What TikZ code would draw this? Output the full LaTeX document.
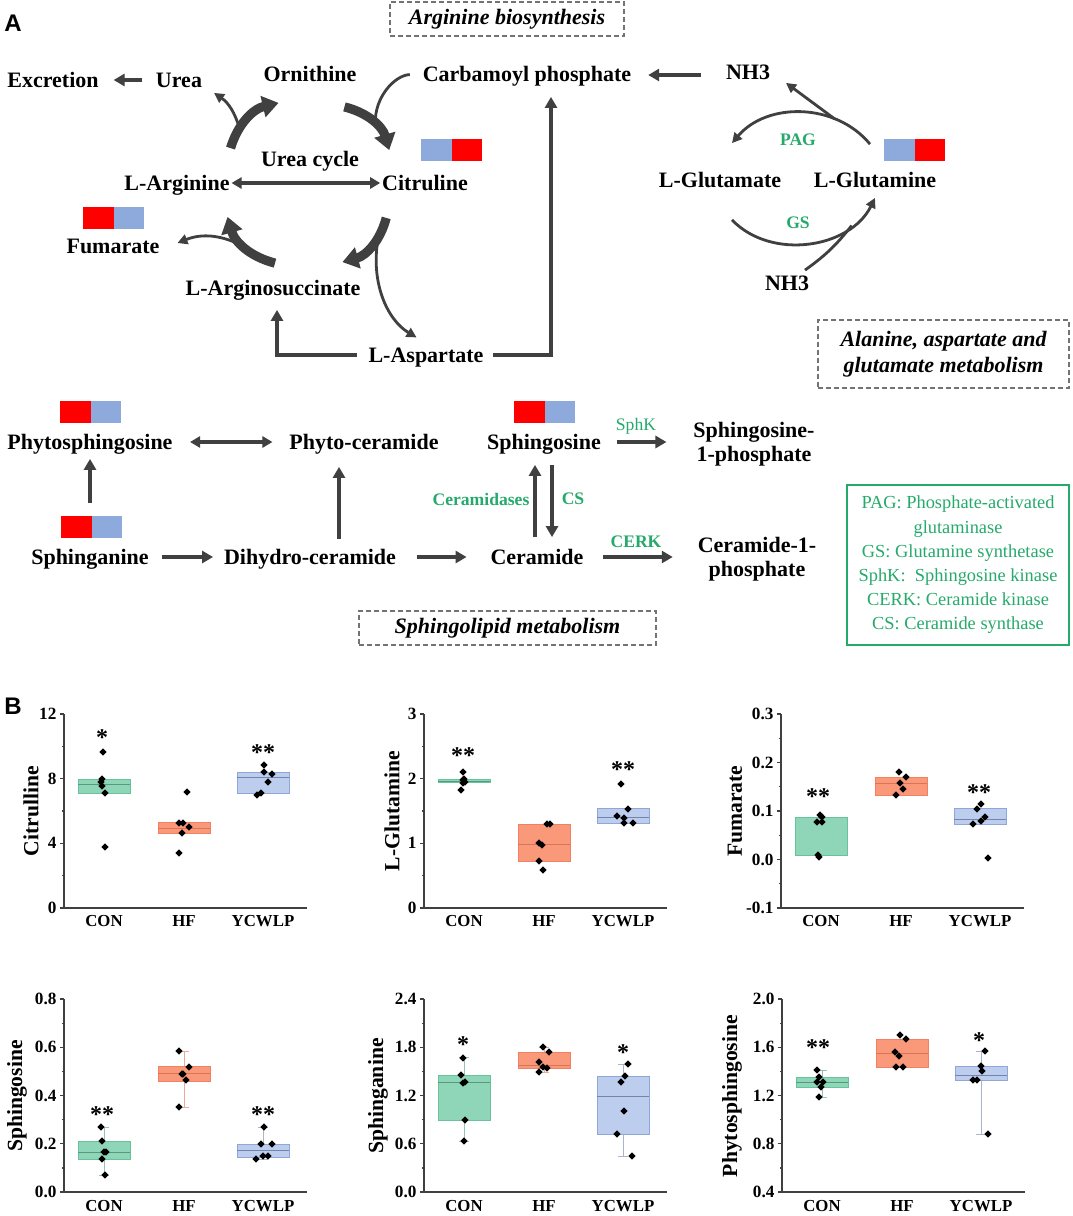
\documentclass[tikz,border=0pt]{standalone}
\usepackage{fontspec}
\setmainfont{Liberation Serif}
\newfontfamily\panelfont{Liberation Sans}
\usetikzlibrary{arrows.meta}

\definecolor{arrowgray}{RGB}{64,64,64}
\definecolor{enzgreen}{RGB}{38,170,108}
\definecolor{hmred}{RGB}{255,0,0}
\definecolor{hmblue}{RGB}{142,169,219}
\definecolor{confill}{RGB}{143,213,183}
\definecolor{conedge}{RGB}{104,194,156}
\definecolor{hffill}{RGB}{250,152,122}
\definecolor{hfedge}{RGB}{242,128,98}
\definecolor{ycfill}{RGB}{188,205,237}
\definecolor{ycedge}{RGB}{142,166,216}

\tikzset{
  met/.style={font=\fontsize{11}{13}\selectfont\bfseries, inner sep=1pt, outer sep=0pt,
    text height=8.7pt, text depth=1.2pt},
  mettwo/.style={font=\fontsize{11}{12}\selectfont\bfseries, inner sep=1pt, outer sep=0pt, align=center},
  enzyme/.style={font=\fontsize{8.8}{10}\selectfont\bfseries, text=enzgreen, inner sep=0pt},
  pathbox/.style={draw=black!55, line width=0.6pt, dash pattern=on 2.5pt off 1.5pt,
    font=\fontsize{11}{13}\selectfont\bfseries\itshape, inner sep=0pt, align=center},
  flow/.style={draw=arrowgray, line width=2pt, -{Triangle[length=5.5pt,width=6pt]}},
  flowboth/.style={draw=arrowgray, line width=1.7pt,
    {Triangle[length=5pt,width=5.5pt]}-{Triangle[length=5pt,width=5.5pt]}},
  cyc/.style={draw=arrowgray, line width=4.6pt, -{Triangle[length=8pt,width=10.5pt]}},
  branch/.style={draw=arrowgray, line width=1.4pt, -{Triangle[length=5pt,width=5pt]}},
  branchline/.style={draw=arrowgray, line width=1.4pt},
  axisline/.style={draw=black!75, line width=0.6pt},
  ticklab/.style={anchor=east, font=\fontsize{8.6}{9}\selectfont\bfseries, inner sep=1.5pt},
  catlab/.style={anchor=north, font=\fontsize{8.4}{9}\selectfont\bfseries, inner sep=0pt},
  ytitle/.style={rotate=90, font=\fontsize{10.8}{12}\selectfont\bfseries, inner sep=0pt},
  sig/.style={anchor=base, font=\fontsize{12}{12}\selectfont\bfseries, inner sep=0pt},
  con box/.style={fill=confill, draw=conedge, line width=0.5pt},
  hf box/.style={fill=hffill, draw=hfedge, line width=0.5pt},
  yc box/.style={fill=ycfill, draw=ycedge, line width=0.5pt},
  con med/.style={draw=conedge!80!black, line width=0.4pt},
  hf med/.style={draw=hfedge!90!black, line width=0.4pt},
  yc med/.style={draw=ycedge!80!black, line width=0.4pt},
}

\begin{document}
\begin{tikzpicture}[x=0.5pt,y=-0.5pt]
\useasboundingbox (0,0) rectangle (1072,1216);
\fill[white] (0,0) rectangle (1072,1216);

% ---------------- panel A ----------------
\node[font=\panelfont\fontsize{12}{14}\selectfont\bfseries] (panelA) at (13,23) {A};
\node[pathbox, minimum width=117pt, minimum height=17pt] (argbio) at (507,19) {Arginine biosynthesis};
\node[pathbox, minimum width=125.5pt, minimum height=34pt] (alabox) at (943.5,354)
  {Alanine, aspartate and\\glutamate metabolism};
\node[pathbox, minimum width=148.5pt, minimum height=17pt] (sphbox) at (507.5,628) {Sphingolipid metabolism};

% heat map squares
\foreach \x/\y/\l/\r in {421/139/hmblue/hmred, 83/207/hmred/hmblue, 884/139/hmblue/hmred,
  60/401/hmred/hmblue, 61/516/hmred/hmblue, 514/401/hmred/hmblue}
{
  \fill[\l] (\x,\y) rectangle ++(30.5,22);
  \fill[\r] (\x+30.5,\y) rectangle ++(30.5,22);
}

% urea cycle
\node[met] (excretion) at (53,80) {Excretion};
\node[met] (urea) at (179,80) {Urea};
\node[met] (ornithine) at (310,74) {Ornithine};
\node[met] (carbamoyl) at (527,74) {Carbamoyl phosphate};
\node[met] (nhtop) at (748,72) {NH3};
\node[met] (ureacycle) at (310,159) {Urea cycle};
\node[met] (arginine) at (177,183) {L-Arginine};
\node[met] (citruline) at (425,183) {Citruline};
\node[met] (fumarate) at (113,246) {Fumarate};
\node[met] (arginosucc) at (273,288) {L-Arginosuccinate};
\node[met] (aspartate) at (426,355) {L-Aspartate};

\draw[cyc] ([shift={(-1,-23)}]arginine.north east) to[bend left=30] coordinate[pos=0.3] (toorn)
  ([shift={(17,17)}]ornithine.south west);
\draw[cyc] ([shift={(-14,21)}]ornithine.south east) to[bend left=30] coordinate[pos=0.55] (tocit)
  ([shift={(9,-21)}]citruline.north west);
\draw[cyc] ([shift={(6,23)}]citruline.south west) to[bend left=30] coordinate[pos=0.3] (tosucc)
  ([shift={(-20,-14)}]arginosucc.north east);
\draw[cyc] ([shift={(2,-13)}]arginosucc.north) to[bend left=30] coordinate[pos=0.5] (toarg)
  ([shift={(-4,22)}]arginine.south east);

\draw[branch] (toorn) to[bend right=20] ([shift={(10,1)}]urea.south east);
\draw[branch] (toarg) to[bend right=25] ([shift={(16,-3)}]fumarate.east);
\draw[branchline, shorten <=5.5pt] (carbamoyl.west) to[bend right=45] (tocit);
\draw[branch, shorten >=5.5pt] (tosucc) to[bend right=35] (aspartate.north);

\draw[flow, line width=1.7pt, shorten <=6pt, shorten >=6.5pt] (urea.west) -- (excretion.east);
\draw[flowboth] (arginine.east) -- (citruline.west);
\draw[flow, shorten <=11.5pt, shorten >=7.5pt] ([yshift=-1.5pt]nhtop.west) -- ([yshift=-1.5pt]nhtop.west -| carbamoyl.east);
\draw[flow, line width=1.6pt, shorten <=5pt, shorten >=5pt] (aspartate.west) -| ([xshift=2pt]arginosucc.south);
\draw[flow, line width=1.6pt, shorten <=4pt, shorten >=5.5pt] (aspartate.east) -| ([xshift=12pt]carbamoyl.south);

% glutamate / glutamine
\node[met] (glutamate) at (720,180) {L-Glutamate};
\node[met] (glutamine) at (875,180) {L-Glutamine};
\node[met] (nhbot) at (787,283) {NH3};
\node[enzyme] (pag) at (798,140) {PAG};
\node[enzyme] (gs) at (798,223) {GS};

\draw[branch] ([shift={(-5,-24)}]glutamine.north) to[bend right=50] coordinate[pos=0.28] (topag)
  ([shift={(12,-25)}]glutamate.north);
\draw[branch] (topag) -- ([shift={(14,-1)}]nhtop.south east);
\draw[branch] ([shift={(12,28)}]glutamate.south) to[bend right=55] coordinate[pos=0.78] (togs)
  ([shift={(0,6)}]glutamine.south);
\draw[branchline] ([shift={(-6,-1)}]nhbot.north east) to[bend right=8] (togs);

% sphingolipids
\node[met] (phytosph) at (90,442) {Phytosphingosine};
\node[met] (phytocer) at (364,442) {Phyto-ceramide};
\node[met] (sphingosine) at (544,442) {Sphingosine};
\node[mettwo] (s1p) at (754,444.5) {Sphingosine-\\1-phosphate};
\node[met] (sphinganine) at (90,557) {Sphinganine};
\node[met] (dihydro) at (310,557) {Dihydro-ceramide};
\node[met] (ceramide) at (537,557) {Ceramide};
\node[mettwo] (c1p) at (757,559.5) {Ceramide-1-\\phosphate};
\node[enzyme, font=\fontsize{8.8}{10}\selectfont] (sphk) at (636,426) {SphK};
\node[enzyme] (cerk) at (636,542) {CERK};
\node[enzyme] (ceramidases) at (481,499) {Ceramidases};
\node[enzyme] (cs) at (573,499) {CS};

\draw[flowboth, line width=2pt, shorten <=7.75pt, shorten >=7.5pt] (phytosph.east) -- (phytocer.west);
\draw[flow, shorten <=21pt, shorten >=2.5pt] (sphinganine.north) -- (phytosph.south);
\draw[flow, shorten <=5.5pt, shorten >=4.5pt] (sphinganine.east) -- (dihydro.west);
\draw[flow, shorten <=3pt, shorten >=6.5pt] ([xshift=14.5pt]dihydro.north) -- ([xshift=14.5pt]dihydro.north |- phytocer.south);
\draw[flow, shorten <=9.5pt, shorten >=11pt] (dihydro.east) -- (ceramide.west);
\draw[flow, shorten <=4pt, shorten >=5.5pt] ([xshift=-1pt]ceramide.north) -- ([xshift=-1pt]ceramide.north |- sphingosine.south);
\draw[flow, shorten <=5.5pt, shorten >=4pt] ([xshift=7.5pt]ceramide.north |- sphingosine.south) -- ([xshift=7.5pt]ceramide.north);
\draw[flow, shorten <=7pt, shorten >=12.5pt] (sphingosine.east) -- (sphingosine.east -| s1p.west);
\draw[flow, shorten <=9pt, shorten >=11.5pt] (ceramide.east) -- (ceramide.east -| c1p.west);

\node[draw=enzgreen, line width=0.7pt, text=enzgreen, font=\fontsize{9.2}{12.1}\selectfont, align=center,
  minimum width=111pt, minimum height=80pt, inner sep=0pt] (legend) at (958,565)
  {PAG: Phosphate-activated\\glutaminase\\GS: Glutamine synthetase\\SphK:~ Sphingosine kinase\\CERK: Ceramide kinase\\CS: Ceramide synthase};

% ---------------- panel B ----------------
\node[font=\panelfont\fontsize{12}{14}\selectfont\bfseries] (panelB) at (13,706) {B};

% Citrulline
\begin{scope}[shift={(64,0)}]
\draw[axisline] (0,714) -- (0,908) -- (243,908);
\foreach \y/\t [count=\i] in {908/0,843.3/4,778.7/8,714/12}
  \draw[axisline] (0,\y) -- (-4,\y) node[ticklab] (cit-y\i) {\t};
\foreach \y in {875.7,811,746.3}
  \draw[axisline] (0,\y) -- (-2,\y);
\foreach \x/\t [count=\i] in {40/CON,120/HF,199/YCWLP}
  \node[catlab] (cit-x\i) at (\x,915) {\t};
\node[ytitle] (cit-title) at (-33,811) {Citrulline};
\foreach \x/\top/\bot/\med/\s in {40/779/793/784/con, 120/822/833/828/hf, 199/772/793/777/yc}
{
  \filldraw[\s\space box] (\x-26,\top) rectangle (\x+26,\bot);
  \draw[\s\space med] (\x-26,\med) -- (\x+26,\med);
}
\foreach \x/\y in {39/752,38/779,37/782,38/786,41/793,41/847,
  123/792,115/823,119/823,125/827,118/833,115/853,
  200/765,200/772,208/774,204/782,193/795,197/793}
  \fill (\x,\y) +(0,-3.7) -- +(3.7,0) -- +(0,3.7) -- +(-3.7,0) -- cycle;
\node[sig] (cit-s1) at (38,745) {*};
\node[sig] (cit-s3) at (199,760) {**};
\end{scope}

% L-Glutamine
\begin{scope}[shift={(424,0)}]
\draw[axisline] (0,714) -- (0,908) -- (243,908);
\foreach \y/\t [count=\i] in {908/0,843.3/1,778.7/2,714/3}
  \draw[axisline] (0,\y) -- (-4,\y) node[ticklab] (gln-y\i) {\t};
\foreach \y in {875.7,811,746.3}
  \draw[axisline] (0,\y) -- (-2,\y);
\foreach \x/\t [count=\i] in {40/CON,120/HF,199/YCWLP}
  \node[catlab] (gln-x\i) at (\x,915) {\t};
\node[ytitle] (gln-title) at (-32,811) {L-Glutamine};
\foreach \x/\top/\bot/\med/\s in {40/779/782/781/con, 120/824/861/844/hf, 199/808/823/817/yc}
{
  \filldraw[\s\space box] (\x-26,\top) rectangle (\x+26,\bot);
  \draw[\s\space med] (\x-26,\med) -- (\x+26,\med);
}
\foreach \x/\y in {39/772,40/779,39/780,41/782,39/783,37/790,
  123/824,126/824,115/843,118/845,115/861,119/870,
  197/784,204/809,193/816,200/818,200/823,209/823}
  \fill (\x,\y) +(0,-3.7) -- +(3.7,0) -- +(0,3.7) -- +(-3.7,0) -- cycle;
\node[sig] (gln-s1) at (39,763) {**};
\node[sig] (gln-s3) at (199,777) {**};
\end{scope}

% Fumarate
\begin{scope}[shift={(781,0)}]
\draw[axisline] (0,714) -- (0,908) -- (243,908);
\foreach \y/\t [count=\i] in {908/-0.1,859.5/0.0,811/0.1,762.5/0.2,714/0.3}
  \draw[axisline] (0,\y) -- (-4,\y) node[ticklab] (fum-y\i) {\t};
\foreach \y in {883.75,835.25,786.75,738.25}
  \draw[axisline] (0,\y) -- (-2,\y);
\foreach \x/\t [count=\i] in {40/CON,120/HF,199/YCWLP}
  \node[catlab] (fum-x\i) at (\x,915) {\t};
\node[ytitle] (fum-title) at (-46,811) {Fumarate};
\filldraw[con box] (14,817) rectangle (66,855);
\foreach \x/\top/\bot/\med/\s in {120/777/795/783/hf, 199/808/824/819/yc}
{
  \filldraw[\s\space box] (\x-26,\top) rectangle (\x+26,\bot);
  \draw[\s\space med] (\x-26,\med) -- (\x+26,\med);
}
\foreach \x/\y in {39/815,41/817,36/822,41/822,37/855,38/857,
  118/772,125/777,119/783,122/789,115/795,
  200/804,196/809,204/817,200/821,192/824,207/858}
  \fill (\x,\y) +(0,-3.7) -- +(3.7,0) -- +(0,3.7) -- +(-3.7,0) -- cycle;
\node[sig] (fum-s1) at (37,804) {**};
\node[sig] (fum-s3) at (198,800) {**};
\end{scope}

% Sphingosine
\begin{scope}[shift={(64,0)}]
\draw[axisline] (0,999) -- (0,1192) -- (243,1192);
\foreach \y/\t [count=\i] in {1192/0.0,1143.75/0.2,1095.5/0.4,1047.25/0.6,999/0.8}
  \draw[axisline] (0,\y) -- (-4,\y) node[ticklab] (sph-y\i) {\t};
\foreach \y in {1167.9,1119.6,1071.4,1023.1}
  \draw[axisline] (0,\y) -- (-2,\y);
\foreach \x/\t [count=\i] in {40/CON,120/HF,199/YCWLP}
  \node[catlab] (sph-x\i) at (\x,1200) {\t};
\node[ytitle] (sph-title) at (-47,1096) {Sphingosine};
\foreach \x/\a/\b/\s in {40/1127/1175/con, 120/1051/1107/hf, 199/1127/1159/yc}
  \draw[\s\space med, draw opacity=0.6] (\x,\a) -- (\x,\b) (\x-5,\a) -- (\x+5,\a) (\x-5,\b) -- (\x+5,\b);
\foreach \x/\top/\bot/\med/\s in {40/1141/1159/1152/con, 120/1066/1081/1073/hf, 199/1144/1157/1150/yc}
{
  \filldraw[\s\space box] (\x-26,\top) rectangle (\x+26,\bot);
  \draw[\s\space med] (\x-26,\med) -- (\x+26,\med);
}
\foreach \x/\y in {37/1127,38/1141,40/1152,42/1152,38/1159,41/1175,
  115/1051,125/1067,118/1074,119/1074,122/1080,115/1107,
  200/1127,197/1144,208/1144,199/1156,204/1156,192/1159}
  \fill (\x,\y) +(0,-3.7) -- +(3.7,0) -- +(0,3.7) -- +(-3.7,0) -- cycle;
\node[sig] (sph-s1) at (38,1122) {**};
\node[sig] (sph-s3) at (199,1122) {**};
\end{scope}

% Sphinganine
\begin{scope}[shift={(424,0)}]
\draw[axisline] (0,999) -- (0,1192) -- (243,1192);
\foreach \y/\t [count=\i] in {1192/0.0,1143.75/0.6,1095.5/1.2,1047.25/1.8,999/2.4}
  \draw[axisline] (0,\y) -- (-4,\y) node[ticklab] (sgn-y\i) {\t};
\foreach \y in {1167.9,1119.6,1071.4,1023.1}
  \draw[axisline] (0,\y) -- (-2,\y);
\foreach \x/\t [count=\i] in {40/CON,120/HF,199/YCWLP}
  \node[catlab] (sgn-x\i) at (\x,1200) {\t};
\node[ytitle] (sgn-title) at (-46,1096) {Sphinganine};
\foreach \x/\a/\b/\s in {40/1057/1141/con, 120/1047/1072/hf, 199/1064/1156/yc}
  \draw[\s\space med, draw opacity=0.6] (\x,\a) -- (\x,\b) (\x-5,\a) -- (\x+5,\a) (\x-5,\b) -- (\x+5,\b);
\foreach \x/\top/\bot/\med/\s in {40/1075/1120/1082/con, 120/1052/1068/1065/hf, 199/1076/1134/1096/yc}
{
  \filldraw[\s\space box] (\x-26,\top) rectangle (\x+26,\bot);
  \draw[\s\space med] (\x-26,\med) -- (\x+26,\med);
}
\foreach \x/\y in {39/1058,37/1075,39/1083,41/1082,41/1120,40/1141,
  119/1047,125/1052,115/1062,119/1067,123/1068,115/1072,
  204/1064,201/1076,197/1082,200/1111,193/1134,208/1156}
  \fill (\x,\y) +(0,-3.7) -- +(3.7,0) -- +(0,3.7) -- +(-3.7,0) -- cycle;
\node[sig] (sgn-s1) at (39,1052) {*};
\node[sig] (sgn-s3) at (199,1060) {*};
\end{scope}

% Phytosphingosine
\begin{scope}[shift={(782,0)}]
\draw[axisline] (0,999) -- (0,1192) -- (243,1192);
\foreach \y/\t [count=\i] in {1192/0.4,1143.75/0.8,1095.5/1.2,1047.25/1.6,999/2.0}
  \draw[axisline] (0,\y) -- (-4,\y) node[ticklab] (phs-y\i) {\t};
\foreach \y in {1167.9,1119.6,1071.4,1023.1}
  \draw[axisline] (0,\y) -- (-2,\y);
\foreach \x/\t [count=\i] in {40/CON,120/HF,199/YCWLP}
  \node[catlab] (phs-x\i) at (\x,1200) {\t};
\node[ytitle] (phs-title) at (-50,1096) {Phytosphingosine};
\foreach \x/\a/\b/\s in {40/1070/1097/con, 199/1051/1134/yc}
  \draw[\s\space med, draw opacity=0.6] (\x,\a) -- (\x,\b) (\x-5,\a) -- (\x+5,\a) (\x-5,\b) -- (\x+5,\b);
\foreach \x/\top/\bot/\med/\s in {40/1077/1087/1082/con, 120/1039/1067/1053/hf, 199/1066/1080/1075/yc}
{
  \filldraw[\s\space box] (\x-26,\top) rectangle (\x+26,\bot);
  \draw[\s\space med] (\x-26,\med) -- (\x+26,\med);
}
\foreach \x/\y in {35/1070,37/1077,35/1082,41/1082,39/1087,37/1097,
  118/1035,124/1039,113/1052,117/1056,114/1067,121/1067,
  203/1051,199/1066,200/1071,191/1080,195/1080,206/1134}
  \fill (\x,\y) +(0,-3.7) -- +(3.7,0) -- +(0,3.7) -- +(-3.7,0) -- cycle;
\node[sig] (phs-s1) at (36,1055) {**};
\node[sig] (phs-s3) at (197,1048) {*};
\end{scope}
\end{tikzpicture}
\end{document}
